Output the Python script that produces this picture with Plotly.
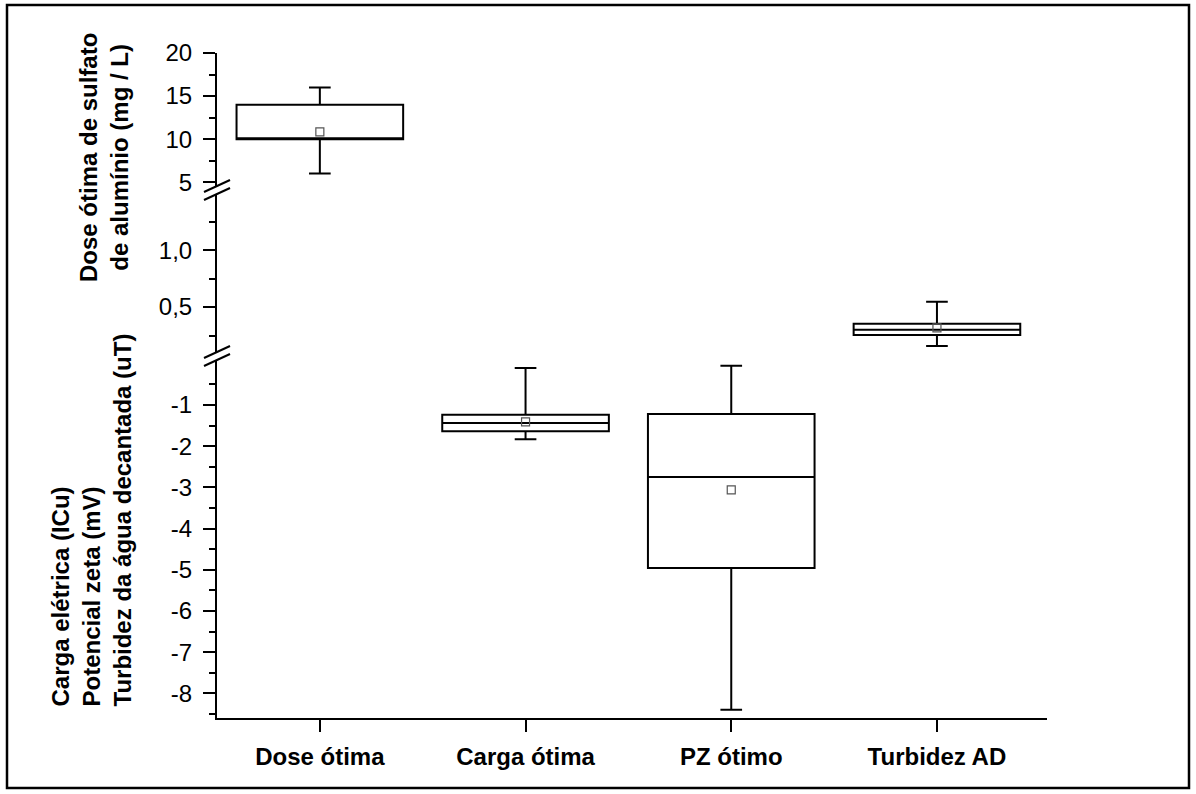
import plotly.graph_objects as go

# ---------------- data ----------------
categories = ["Dose ótima", "Carga ótima", "PZ ótimo", "Turbidez AD"]
cat_pos = [0, 1, 2, 3]

# segment each box lives on: "y" top (dose), "y2" middle (turbidez), "y3" bottom (carga, PZ)
box_axis = ["y", "y3", "y3", "y2"]
lower_whisker = [6.0, -1.83, -8.40, 0.158]
q1_vals = [10.0, -1.64, -4.96, 0.255]
median_vals = [10.0, -1.44, -2.75, 0.300]
q3_vals = [14.0, -1.24, -1.22, 0.354]
upper_whisker = [16.0, -0.10, -0.05, 0.547]
mean_vals = [10.85, -1.41, -3.06, 0.318]

top_ticks = [5, 10, 15, 20]
top_tick_text = ["5", "10", "15", "20"]
mid_ticks = [0.5, 1.0]
mid_tick_text = ["0,5", "1,0"]
bot_ticks = [-1, -2, -3, -4, -5, -6, -7, -8]
bot_tick_text = ["-1", "-2", "-3", "-4", "-5", "-6", "-7", "-8"]

title_top = "Dose ótima de sulfato<br>de alumínio (mg / L)"
title_bottom = "Carga elétrica (ICu)<br>Potencial zeta (mV)<br>Turbidez da água decantada (uT)"

# ---------------- layout geometry ----------------
W, H = 1196, 794
ML, MR, MT, MB = 217, 149, 53, 76
PW = W - ML - MR
PH = H - MT - MB
FONT = "Liberation Sans, Arial, sans-serif"

dom_top = [0.794, 1.0]
dom_mid = [0.5444, 0.794]
dom_bot = [0.0, 0.5444]

fig = go.Figure()

for i, cat in enumerate(categories):
    fig.add_trace(go.Box(
        x=[cat_pos[i]], q1=[q1_vals[i]], median=[median_vals[i]], q3=[q3_vals[i]],
        lowerfence=[lower_whisker[i]], upperfence=[upper_whisker[i]],
        xaxis="x", yaxis=box_axis[i], width=0.81, whiskerwidth=0.13,
        fillcolor="rgba(255,255,255,0)", line=dict(color="black", width=2),
        boxpoints=False, showlegend=False, hoverinfo="skip"))
    fig.add_trace(go.Scatter(
        x=[cat_pos[i]], y=[mean_vals[i]], xaxis="x", yaxis=box_axis[i],
        mode="markers", marker=dict(symbol="square-open", size=8, color="#555555",
                                    line=dict(width=1.2, color="#555555")),
        showlegend=False, hoverinfo="skip"))

axis_common = dict(showgrid=False, zeroline=False, showline=True, linecolor="black",
                   linewidth=2, ticks="outside", ticklen=12, tickwidth=2, tickcolor="black",
                   tickfont=dict(family=FONT, size=24, color="black"), anchor="x",
                   ticklabelstandoff=6)

fig.update_layout(
    width=W, height=H, margin=dict(l=ML, r=MR, t=MT, b=MB),
    plot_bgcolor="white", paper_bgcolor="white", separators=",.",
    font=dict(family=FONT, color="black"),
    xaxis=dict(range=[-0.5, 3.535], tickvals=cat_pos, ticktext=categories,
               showgrid=False, zeroline=False, showline=True, linecolor="black",
               linewidth=2, ticks="outside", ticklen=12, tickwidth=2, tickcolor="black",
               tickfont=dict(family=FONT, size=24, color="black", weight="bold"),
               anchor="y3", ticklabelstandoff=4),
    yaxis=dict(domain=dom_top, range=[4.1, 20], tickvals=top_ticks, ticktext=top_tick_text,
               minor=dict(tickvals=[7.5, 12.5, 17.5], ticks="outside", ticklen=6,
                          tickwidth=2, tickcolor="black"), **axis_common),
    yaxis2=dict(domain=dom_mid, range=[0.07, 1.53], tickvals=mid_ticks, ticktext=mid_tick_text,
                minor=dict(tickvals=[0.25, 0.75, 1.25], ticks="outside", ticklen=6,
                           tickwidth=2, tickcolor="black"), **axis_common),
    yaxis3=dict(domain=dom_bot, range=[-8.6, 0.19], tickvals=bot_ticks, ticktext=bot_tick_text,
                minor=dict(tickvals=[-0.5 - k for k in range(9)], ticks="outside", ticklen=6,
                           tickwidth=2, tickcolor="black"), **axis_common),
)

# axis titles
fig.add_annotation(text=title_top, xref="paper", yref="paper",
                   x=(104 - ML) / PW, y=(H - MB - 157) / PH, xanchor="center", yanchor="middle",
                   textangle=-90, showarrow=False, align="center",
                   font=dict(family=FONT, size=24, color="black", weight="bold"))
fig.add_annotation(text=title_bottom, xref="paper", yref="paper",
                   x=(91 - ML) / PW, y=(H - MB - 709) / PH, xanchor="center", yanchor="bottom",
                   textangle=-90, showarrow=False, align="left",
                   font=dict(family=FONT, size=24, color="black", weight="bold"))

# axis break marks
px_x = 1.0 / PW
px_y = 1.0 / PH
for yb in [dom_top[0], dom_mid[0]]:
    fig.add_shape(type="rect", xref="paper", yref="paper",
                  x0=-3 * px_x, x1=3 * px_x, y0=yb - 4 * px_y, y1=yb + 4 * px_y,
                  fillcolor="white", line=dict(width=0), layer="above")
    for off in (-4, 4):
        fig.add_shape(type="line", xref="paper", yref="paper",
                      x0=-13 * px_x, x1=13 * px_x,
                      y0=yb + (off - 6) * px_y, y1=yb + (off + 6) * px_y,
                      line=dict(color="black", width=2), layer="above")

# outer frame
fig.add_shape(type="rect", xref="paper", yref="paper",
              x0=(7 - ML) / PW, x1=(1189 - ML) / PW,
              y0=(H - MB - 788) / PH, y1=(H - MB - 5) / PH,
              line=dict(color="black", width=2.5), fillcolor="rgba(0,0,0,0)", layer="above")

fig.write_html("out.html")
